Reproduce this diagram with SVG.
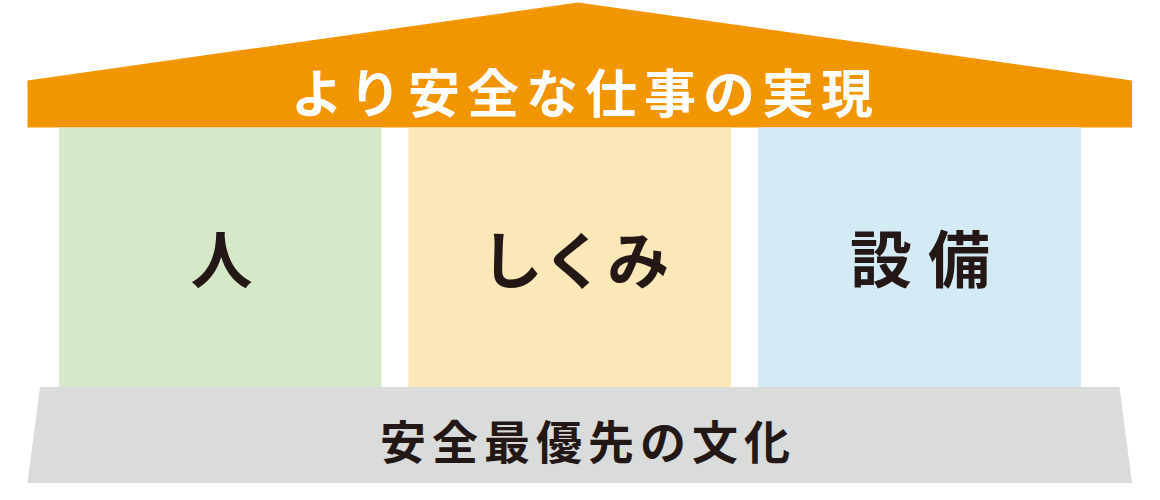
<svg xmlns="http://www.w3.org/2000/svg" width="1160" height="500" viewBox="0 0 1160 500">
<style>
  .jp { font-family: "Noto Sans CJK JP", "Noto Sans CJK SC", sans-serif; font-weight: 700; text-anchor: middle; }
  .dark { fill: #231815; }
  .light { fill: #ffffff; }
</style>
<rect width="1160" height="500" fill="#ffffff"/>
<g id="roof">
  <polygon points="27.5,80.5 578,2.5 1132,80.5 1132,127.5 27.5,127.5" fill="#F29600"/>
  <text class="jp light" x="585.5" y="112.5" font-size="52" letter-spacing="7">より安全な仕事の実現</text>
</g>
<g id="pillar-people">
  <rect x="59" y="127.5" width="322.5" height="260" fill="#D6E8C8"/>
  <text class="jp dark" x="221.5" y="284" font-size="62">人</text>
</g>
<g id="pillar-system">
  <rect x="408.5" y="127.5" width="322.5" height="260" fill="#FCE7B8"/>
  <text class="jp dark" x="575" y="284" font-size="62">しくみ</text>
</g>
<g id="pillar-equipment">
  <rect x="758" y="127.5" width="323" height="260" fill="#D4EBF5"/>
  <text class="jp dark" x="928" y="283" font-size="62" letter-spacing="16">設備</text>
</g>
<g id="foundation">
  <polygon points="40,387 1119.5,387 1132,483 27.5,483" fill="#DADBDB"/>
  <text class="jp dark" x="588" y="458.5" font-size="46" letter-spacing="6">安全最優先の文化</text>
</g>
<g id="connectors"></g>
</svg>
